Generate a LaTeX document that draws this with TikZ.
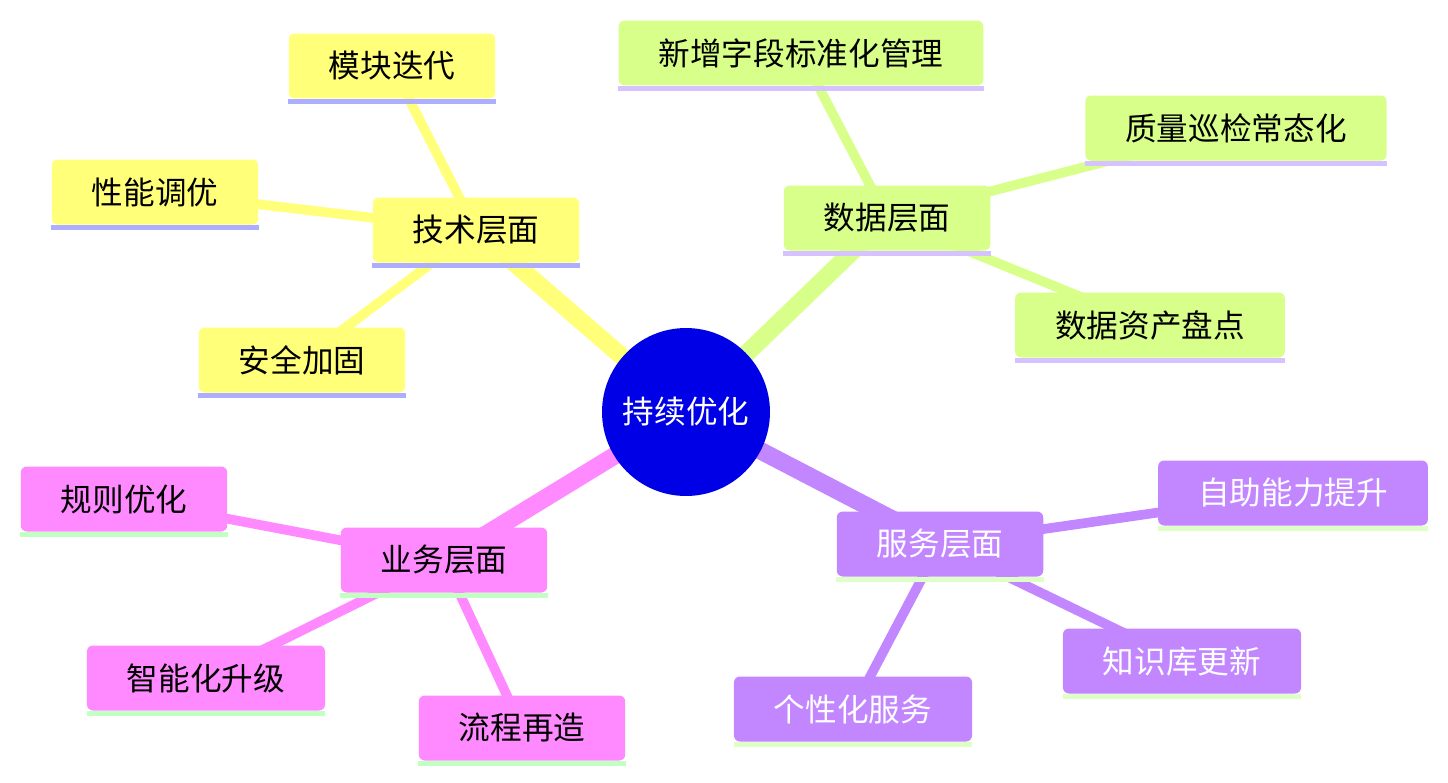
\documentclass[tikz,border=0pt]{standalone}
\usepackage{fontspec}
\setmainfont{Noto Sans CJK SC}
\usetikzlibrary{backgrounds}
\definecolor{techfill}{HTML}{FFFF7A}
\definecolor{techbar}{HTML}{AEAEFF}
\definecolor{datafill}{HTML}{D8FF8A}
\definecolor{databar}{HTML}{D6C2FF}
\definecolor{servfill}{HTML}{C286FF}
\definecolor{servbar}{HTML}{DEFFC6}
\definecolor{bizfill}{HTML}{FF8AFF}
\definecolor{bizbar}{HTML}{C2FFC2}
\definecolor{rootfill}{HTML}{0000E6}
\tikzset{
  topic/.style={rounded corners=0.12cm, inner xsep=0.8cm, minimum height=1.3cm,
    font=\fontsize{18}{20}\selectfont},
  root/.style={circle, fill=rootfill, text=white, minimum size=3.36cm,
    font=\fontsize{18}{20}\selectfont},
  trunk/.style={line width=10pt},
  twig/.style={line width=5.5pt}
}
\newcommand{\topicbar}[2]{\fill[#2] (#1.south west) rectangle ([yshift=-0.1cm]#1.south east);}
\begin{document}
\begin{tikzpicture}[x=0.02cm,y=-0.02cm]
\useasboundingbox (0,0) rectangle (1448,782);
% centre
\node[root] (opt) at (686,412) {持续优化};
% tech
\node[topic,fill=techfill] (tech) at (476,230) {技术层面};
\node[topic,fill=techfill] (iter) at (392,66) {模块迭代};
\node[topic,fill=techfill] (perf) at (155,192) {性能调优};
\node[topic,fill=techfill] (safe) at (302,360) {安全加固};
% data
\node[topic,fill=datafill] (data) at (887,218) {数据层面};
\node[topic,fill=datafill] (field) at (801,53) {新增字段标准化管理};
\node[topic,fill=datafill] (patrol) at (1236,128) {质量巡检常态化};
\node[topic,fill=datafill] (asset) at (1150,325) {数据资产盘点};
% business
\node[topic,fill=bizfill] (biz) at (444,560) {业务层面};
\node[topic,fill=bizfill] (rule) at (124,499) {规则优化};
\node[topic,fill=bizfill] (smart) at (206,678) {智能化升级};
\node[topic,fill=bizfill] (flow) at (522,728) {流程再造};
% service
\node[topic,fill=servfill,text=white] (serv) at (940,544) {服务层面};
\node[topic,fill=servfill,text=white] (self) at (1293,493) {自助能力提升};
\node[topic,fill=servfill,text=white] (know) at (1182,661) {知识库更新};
\node[topic,fill=servfill,text=white] (pers) at (853,709) {个性化服务};
% bars
\topicbar{tech}{techbar}
\topicbar{iter}{techbar}
\topicbar{perf}{techbar}
\topicbar{safe}{techbar}
\topicbar{data}{databar}
\topicbar{field}{databar}
\topicbar{patrol}{databar}
\topicbar{asset}{databar}
\topicbar{biz}{bizbar}
\topicbar{rule}{bizbar}
\topicbar{smart}{bizbar}
\topicbar{flow}{bizbar}
\topicbar{serv}{servbar}
\topicbar{self}{servbar}
\topicbar{know}{servbar}
\topicbar{pers}{servbar}
\begin{scope}[on background layer]
\draw[trunk,techfill] (opt.center) -- (tech.center);
\draw[trunk,datafill] (opt.center) -- (data.center);
\draw[trunk,bizfill] (opt.center) -- (biz.center);
\draw[trunk,servfill] (opt.center) -- (serv.center);
\draw[twig,techfill] (tech.center) -- (iter.center);
\draw[twig,techfill] (tech.center) -- (perf.center);
\draw[twig,techfill] (tech.center) -- (safe.center);
\draw[twig,datafill] (data.center) -- (field.center);
\draw[twig,datafill] (data.center) -- (patrol.center);
\draw[twig,datafill] (data.center) -- (asset.center);
\draw[twig,bizfill] (biz.center) -- (rule.center);
\draw[twig,bizfill] (biz.center) -- (smart.center);
\draw[twig,bizfill] (biz.center) -- (flow.center);
\draw[twig,servfill] (serv.center) -- (self.center);
\draw[twig,servfill] (serv.center) -- (know.center);
\draw[twig,servfill] (serv.center) -- (pers.center);
\end{scope}
\end{tikzpicture}
\end{document}
